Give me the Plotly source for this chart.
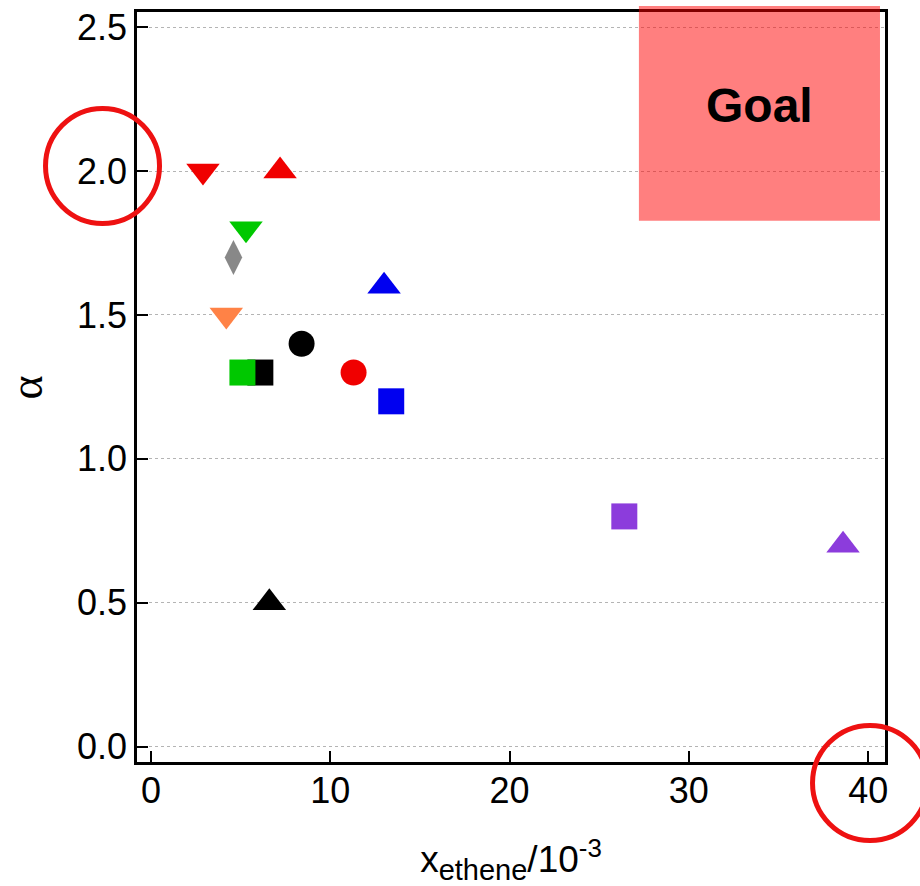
import plotly.graph_objects as go

# Selectivity alpha versus ethene mole fraction (x_ethene in units of 10^-3)
x_ethene = [2.9, 7.2, 5.3, 4.6, 13.0, 4.2, 8.4, 6.1, 5.1, 11.3, 13.4, 6.6, 26.4, 38.6]
alpha = [2.0, 2.0, 1.8, 1.7, 1.6, 1.5, 1.4, 1.3, 1.3, 1.3, 1.2, 0.5, 0.8, 0.7]
symbols = ["triangle-down", "triangle-up", "triangle-down", "diamond-tall",
           "triangle-up", "triangle-down", "circle", "square", "square",
           "circle", "square", "triangle-up", "square", "triangle-up"]
colors = ["#F00000", "#F00000", "#00C800", "#888888", "#0000F0", "#FF8246",
          "#000000", "#000000", "#00C800", "#F00000", "#0000F0", "#000000",
          "#8C3CDC", "#8C3CDC"]

x_ticks = [0, 10, 20, 30, 40]
y_ticks = [0.0, 0.5, 1.0, 1.5, 2.0, 2.5]
y_tick_text = ["0.0", "0.5", "1.0", "1.5", "2.0", "2.5"]

size_by_symbol = {"triangle-up": 29, "triangle-down": 29, "circle": 26,
                  "square": 26, "diamond-tall": 25}

fig = go.Figure()
for xv, yv, sym, col in zip(x_ethene, alpha, symbols, colors):
    fig.add_trace(go.Scatter(
        x=[xv], y=[yv], mode="markers", showlegend=False,
        marker=dict(symbol=sym, size=size_by_symbol[sym], color=col,
                    line=dict(width=0)),
    ))

sans = "Liberation Sans, Arial, sans-serif"
tick_font = dict(family=sans, size=36, color="black")

fig.update_xaxes(
    range=[-0.78, 40.94], tickvals=x_ticks, ticks="inside", ticklen=11,
    tickwidth=2, tickcolor="black", showline=True, linewidth=2.5,
    linecolor="black", mirror=True, showgrid=False, zeroline=False,
    tickfont=tick_font, ticklabelstandoff=-5, automargin=False,
    title=dict(text=("x<sub><span style=\"font-size:29px\">ethene</span></sub>"
                     "/10<sup>-3</sup>"),
               font=dict(family=sans, size=37, color="black"), standoff=37),
)
fig.update_yaxes(
    range=[-0.0535, 2.553], tickvals=y_ticks, ticktext=y_tick_text,
    ticks="inside", ticklen=11, tickwidth=2, tickcolor="black",
    showline=True, linewidth=2.5, linecolor="black", mirror=True,
    showgrid=True, gridcolor="#b4b4b4", gridwidth=1, griddash="dot",
    zeroline=False, tickfont=tick_font, automargin=False,
)

# Rotated y-axis label, anchored to the left edge of the page
fig.add_annotation(xref="paper", yref="paper", x=-0.1832, y=0.5,
                   xanchor="left", yanchor="middle", textangle=-90,
                   text="α", showarrow=False, borderpad=0,
                   font=dict(family="Liberation Serif, Times New Roman, serif",
                             size=46, color="black"))

# Target region in the upper right corner
fig.add_shape(type="rect", xref="x domain", yref="y domain",
              x0=0.671, x1=0.9933, y0=0.7217, y1=1.008,
              fillcolor="rgba(255,0,0,0.5)", line=dict(width=0), layer="above")
fig.add_annotation(xref="x domain", yref="y domain", x=0.832, y=0.8756,
                   xanchor="center", yanchor="middle",
                   text="<b>Goal</b>", showarrow=False,
                   font=dict(family=sans, size=48, color="black"))

# Highlight rings around the 2.0 and 40 tick labels
ring = dict(color="#EE1111", width=5)
fig.add_shape(type="circle", xref="paper", yref="paper",
              x0=-0.1223, x1=0.0301, y0=0.718, y1=0.8713, line=ring, layer="above")
fig.add_shape(type="circle", xref="paper", yref="paper",
              x0=0.9031, x1=1.0568, y0=-0.1047, y1=0.0487, line=ring, layer="above")

fig.update_layout(
    width=920, height=886,
    margin=dict(l=137, r=35, t=12, b=124),
    plot_bgcolor="white", paper_bgcolor="white",
)

fig.write_html("out.html")
